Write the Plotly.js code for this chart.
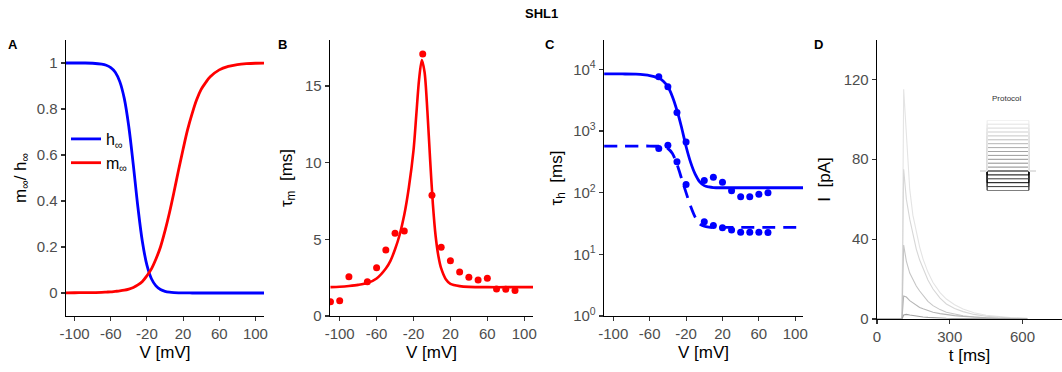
<!DOCTYPE html>
<html>
<head>
<meta charset="utf-8">
<script src="https://cdn.plot.ly/plotly-3.0.1.min.js"></script>
<style>html,body{margin:0;padding:0;background:#fff;} #chart{width:1062px;height:372px;}</style>
</head>
<body>
<div id="chart"></div>
<script>
// ---------- Panel A: steady-state activation / inactivation ----------
const vA = [-110,-100,-90,-80,-70,-65,-60,-55,-50,-45,-40,-35,-30,-25,-20,-15,-10,-5,0,5,10,15,20,25,30,35,40,45,50,60,70,80,90,100,110];
const hInf = [1,1,1,0.999,0.995,0.99,0.98,0.96,0.919,0.845,0.722,0.555,0.374,0.223,0.121,0.062,0.031,0.015,0.0072,0.0035,0.0017,0.0008,0.0004,0.0002,0.0001,0,0,0,0,0,0,0,0,0,0];
const mInf = [0.0005,0.001,0.0015,0.002,0.003,0.004,0.005,0.007,0.009,0.012,0.017,0.024,0.035,0.05,0.075,0.105,0.148,0.2,0.27,0.35,0.44,0.535,0.625,0.71,0.78,0.84,0.885,0.915,0.94,0.97,0.985,0.993,0.997,0.999,0.9995];

// ---------- Panel B: tau_m ----------
const vBfit = [-110,-100,-90,-80,-70,-60,-50,-45,-40,-35,-30,-25,-20,-17,-14,-11,-8,-5,-2,1,4,7,10,15,20,30,40,60,80,110];
const tauMfit = [1.88,1.91,1.96,2.03,2.15,2.45,3.1,3.6,4.35,5.3,6.6,8.4,10.8,13.1,15.4,16.7,15.9,13.4,10.2,7.3,5.2,3.9,3.1,2.4,2.1,1.95,1.9,1.88,1.88,1.88];
const vBdata = [-110,-100,-90,-70,-60,-50,-40,-30,-10,0,10,20,30,40,50,60,70,80,90];
const tauMdata = [0.93,1.0,2.56,2.24,3.15,4.3,5.39,5.54,17.09,7.87,4.48,3.6,2.87,2.52,2.35,2.46,1.76,1.74,1.67];

// ---------- Panel C: tau_h (two components) ----------
const vCfitSlow = [-110,-90,-75,-65,-60,-55,-50,-45,-40,-35,-30,-25,-20,-15,-10,-5,0,5,10,20,40,110];
const tauHslowFit = [8400,8400,8350,8100,7900,7600,7200,6400,5200,3600,2150,1150,560,310,200,150,130,124,121,120,120,120];
const vCfitFast = [-110,-90,-70,-60,-50,-45,-40,-35,-30,-25,-20,-15,-10,-5,0,5,10,20,40,110];
const tauHfastFit = [570,570,570,570,565,555,520,430,290,170,100,60,40,31,28.5,27.7,27.4,27.3,27.3,27.3];
const vCdata = [-50,-40,-30,-20,0,10,20,30,40,50,60,70];
const tauHslowData = [7600,5220,2000,665,157,178,147,107,86,86,94,100];
const tauHfastData = [522,586,318,136,33.8,29.2,27,24.8,22.7,22.7,22.7,22.5];

// ---------- Panel D: current traces ----------
const tD = [0,100,103,110,121,135,148,162,176,190,210,231,260,286,320,355,400,450,500,550,620];
const iTrace1 = [0,0,0,115,90,65,52,43,36,30,23.5,18.3,13.2,10,7.1,5,3.1,1.9,1.2,0.7,0.35];
const iTrace2 = [0,0,0,75,60,50,42,35,29.5,25,19.5,15,10.5,7.5,5.3,3.7,2.3,1.4,0.8,0.5,0.25];
const iTrace3 = [0,0,0,37,29,23,19.5,16.5,14,11.7,8.8,6.7,4.7,3.4,2.4,1.6,1.0,0.6,0.35,0.2,0.1];
const iTrace4 = [0,0,0,11.5,11,9.2,8,7,5.8,5.1,4.2,3.4,2.7,2.2,1.7,1.3,0.9,0.6,0.4,0.25,0.12];
const iTrace5 = [0,0,0,2.0,2.3,2.0,1.7,1.4,1.2,1.0,0.8,0.6,0.45,0.35,0.25,0.18,0.12,0.08,0.05,0.03,0.02];
const traceColors = ['#e4e4e4','#d7d7d7','#c6c6c6','#b6b6b6','#a2a2a2'];

// ---------- Protocol inset (voltage steps, mV) ----------
const protocolHold = -80;
const protocolLevels = [-130,-120,-110,-100,-90,-80,-70,-60,-50,-40,-30,-20,-10,0,10,20,30,40,50];
const protocolColors = ['#000000','#3a3a3a','#000000','#3a3a3a','#000000','#000000','#888888','#8e8e8e','#959595','#9c9c9c','#a4a4a4','#acacac','#b4b4b4','#bdbdbd','#c6c6c6','#cfcfcf','#d8d8d8','#e2e2e2','#eaeaea'];
const protocolX = [-0.17,0,0,1,1,1.17];

const tickVvals = [-100,-60,-20,20,60,100];
const tickVtext = ['-100','-60','-20','20','60','100'];

const BLUE = '#0000ff', RED = '#ff0000';
const traces = [];

traces.push({x:vA, y:hInf, xaxis:'x', yaxis:'y', mode:'lines', name:'h<sub>∞</sub>', line:{color:BLUE, width:2.8, shape:'spline'}, showlegend:true});
traces.push({x:vA, y:mInf, xaxis:'x', yaxis:'y', mode:'lines', name:'m<sub>∞</sub>', line:{color:RED, width:2.8, shape:'spline'}, showlegend:true});

traces.push({x:vBfit, y:tauMfit, xaxis:'x2', yaxis:'y2', mode:'lines', line:{color:RED, width:2.6, shape:'spline', smoothing:0.8}, showlegend:false});
traces.push({x:vBdata, y:tauMdata, xaxis:'x2', yaxis:'y2', mode:'markers', marker:{color:RED, size:7}, showlegend:false});

traces.push({x:vCfitSlow, y:tauHslowFit, xaxis:'x3', yaxis:'y3', mode:'lines', line:{color:BLUE, width:2.8, shape:'spline', smoothing:0.8}, showlegend:false});
traces.push({x:vCfitFast, y:tauHfastFit, xaxis:'x3', yaxis:'y3', mode:'lines', line:{color:BLUE, width:2.8, dash:'13px,8px', shape:'spline', smoothing:0.8}, showlegend:false});
traces.push({x:vCdata, y:tauHslowData, xaxis:'x3', yaxis:'y3', mode:'markers', marker:{color:BLUE, size:7}, showlegend:false});
traces.push({x:vCdata, y:tauHfastData, xaxis:'x3', yaxis:'y3', mode:'markers', marker:{color:BLUE, size:7}, showlegend:false});

const iTraces = [iTrace1, iTrace2, iTrace3, iTrace4, iTrace5];
iTraces.forEach((vals, k) => {
  traces.push({x:tD, y:vals, xaxis:'x4', yaxis:'y4', mode:'lines', line:{color:traceColors[k], width:1.1}, showlegend:false, hoverinfo:'skip'});
});

protocolLevels.forEach((lev, k) => {
  traces.push({x:protocolX, y:[protocolHold,protocolHold,lev,lev,protocolHold,protocolHold], xaxis:'x5', yaxis:'y5', mode:'lines', line:{color:protocolColors[k], width:1}, showlegend:false, hoverinfo:'skip'});
});

const W = 1062, H = 372;
const px = v => v / W, py = v => 1 - v / H;

const tickFont = {family:'Liberation Sans, Arial, sans-serif', size:15, color:'#4d4d4d'};
const titleFont = {family:'Liberation Sans, Arial, sans-serif', size:17, color:'#000'};
function ax(extra) {
  return Object.assign({showline:true, linecolor:'#000', linewidth:1.3, ticks:'outside', ticklen:4, tickwidth:1.1, tickcolor:'#333',
    tickfont:tickFont, showgrid:false, zeroline:false, automargin:false, fixedrange:true, layer:'above traces'}, extra);
}

const yDom = [py(316), py(40)];
const layout = {
  width:W, height:H, margin:{l:0,r:0,t:0,b:0},
  paper_bgcolor:'#fff', plot_bgcolor:'rgba(0,0,0,0)',
  font:{family:'Liberation Sans, Arial, sans-serif'},
  showlegend:true,
  legend:{x:px(66), y:py(122), xanchor:'left', yanchor:'top', bgcolor:'rgba(0,0,0,0)', font:{size:16, color:'#000'}, tracegroupgap:0, itemwidth:30},
  xaxis: ax({domain:[px(66), px(264)], anchor:'y', range:[-109.5,109.5], tickvals:tickVvals, ticktext:tickVtext, title:{text:'V [mV]', font:titleFont, standoff:4}}),
  yaxis: ax({domain:yDom, anchor:'x', range:[-0.1,1.1], tickvals:[0,0.2,0.4,0.6,0.8,1], ticktext:['0','0.2','0.4','0.6','0.8','1'], title:{text:'m<sub>∞</sub>/ h<sub>∞</sub>', font:titleFont, standoff:6}}),
  xaxis2: ax({domain:[px(330), px(533)], anchor:'y2', range:[-110.5,109.5], tickvals:tickVvals, ticktext:tickVtext, title:{text:'V [mV]', font:titleFont, standoff:4}}),
  yaxis2: ax({domain:yDom, anchor:'x2', range:[0,18], tickvals:[0,5,10,15], ticktext:['0','5','10','15'], title:{text:'τ<sub>m</sub>\u00a0\u00a0[ms]', font:titleFont, standoff:8}}),
  xaxis3: ax({domain:[px(604), px(803)], anchor:'y3', range:[-110.2,108.5], tickvals:tickVvals, ticktext:tickVtext, title:{text:'V [mV]', font:titleFont, standoff:4}}),
  yaxis3: ax({domain:yDom, anchor:'x3', type:'log', range:[0,4.475], tickvals:[1,10,100,1000,10000], ticktext:['10<sup>0</sup>','10<sup>1</sup>','10<sup>2</sup>','10<sup>3</sup>','10<sup>4</sup>'], title:{text:'τ<sub>h</sub>\u00a0\u00a0[ms]', font:titleFont, standoff:6}}),
  xaxis4: ax({domain:[px(877), 1], anchor:'y4', range:[0,763], tickvals:[0,300,600], ticktext:['0','300','600'], title:{text:'t [ms]', font:titleFont, standoff:4}}),
  yaxis4: ax({domain:[py(319), py(40)], anchor:'x4', range:[0,139.7], tickvals:[0,40,80,120], ticktext:['0','40','80','120'], title:{text:'I\u00a0\u00a0[pA]', font:titleFont, standoff:8}}),
  xaxis5: {domain:[px(980), px(1036)], anchor:'y5', range:[-0.17,1.17], visible:false, fixedrange:true},
  yaxis5: {domain:[py(190.5), py(120.3)], anchor:'x5', range:[-130,50], visible:false, fixedrange:true},
  annotations: [
    {text:'<b>SHL1</b>', x:px(541), y:py(14), xref:'paper', yref:'paper', showarrow:false, font:{size:13, color:'#000'}, xanchor:'center', yanchor:'middle'},
    {text:'<b>A</b>', x:px(13), y:py(44), xref:'paper', yref:'paper', showarrow:false, font:{size:13, color:'#000'}, xanchor:'center', yanchor:'middle'},
    {text:'<b>B</b>', x:px(282), y:py(44), xref:'paper', yref:'paper', showarrow:false, font:{size:13, color:'#000'}, xanchor:'center', yanchor:'middle'},
    {text:'<b>C</b>', x:px(550), y:py(44), xref:'paper', yref:'paper', showarrow:false, font:{size:13, color:'#000'}, xanchor:'center', yanchor:'middle'},
    {text:'<b>D</b>', x:px(818), y:py(44), xref:'paper', yref:'paper', showarrow:false, font:{size:13, color:'#000'}, xanchor:'center', yanchor:'middle'},
    {text:'Protocol', x:px(1007), y:py(98), xref:'paper', yref:'paper', showarrow:false, font:{size:8, color:'#333'}, xanchor:'center', yanchor:'middle'}
  ]
};

Plotly.newPlot('chart', traces, layout, {staticPlot:true, displayModeBar:false});
</script>
</body>
</html>
